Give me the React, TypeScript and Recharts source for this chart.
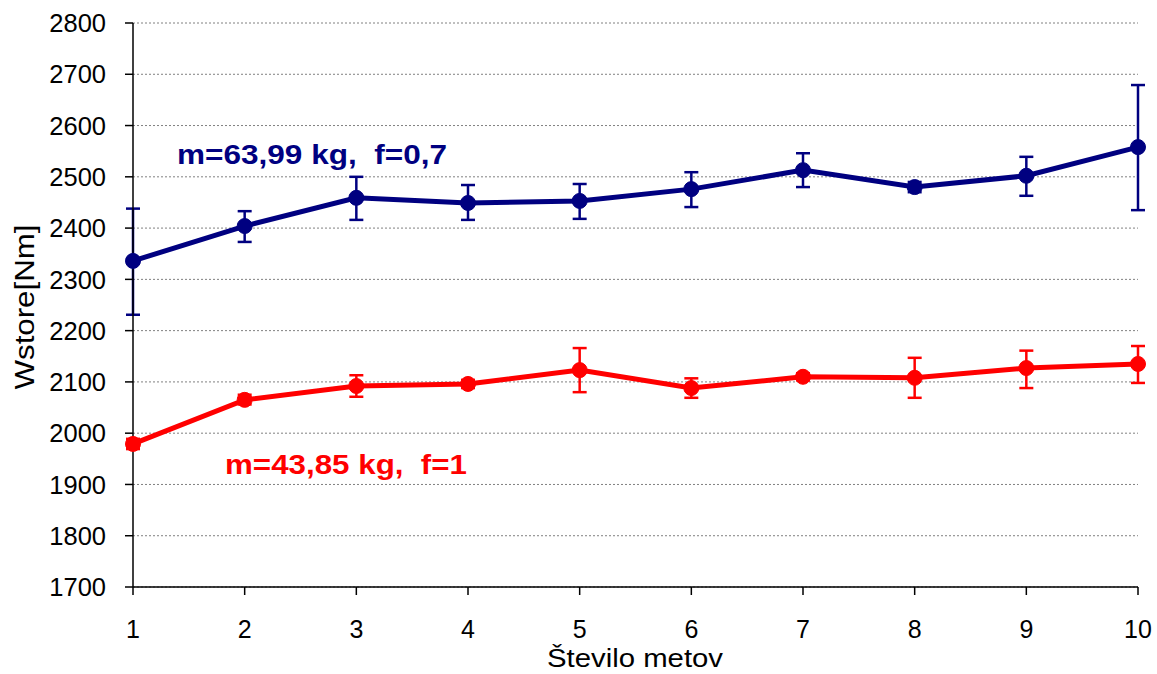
import { LineChart, Line, XAxis, YAxis, CartesianGrid, ErrorBar, Customized } from 'recharts';

const throws = [1, 2, 3, 4, 5, 6, 7, 8, 9, 10];

// m=63,99 kg, f=0,7
const heavyMean = [2336, 2404, 2459, 2449, 2453, 2476, 2513, 2480, 2502, 2558];
const heavyLow = [2231, 2373, 2416, 2416, 2418, 2441, 2480, 2470, 2463, 2435];
const heavyHigh = [2438, 2433, 2500, 2484, 2486, 2509, 2546, 2490, 2539, 2679];

// m=43,85 kg, f=1
const lightMean = [1979, 2065, 2092, 2096, 2123, 2088, 2110, 2108, 2127, 2135];
const lightLow = [1969, 2056, 2071, 2088, 2080, 2069, 2103, 2069, 2088, 2098];
const lightHigh = [1989, 2075, 2113, 2104, 2166, 2107, 2117, 2147, 2161, 2170];

const yTicks = [1700, 1800, 1900, 2000, 2100, 2200, 2300, 2400, 2500, 2600, 2700, 2800];

const data = throws.map((x, i) => ({
  x,
  heavy: heavyMean[i],
  heavyErr: [heavyMean[i] - heavyLow[i], heavyHigh[i] - heavyMean[i]],
  light: lightMean[i],
  lightErr: [lightMean[i] - lightLow[i], lightHigh[i] - lightMean[i]],
}));

const NAVY = '#000080';
const RED = '#ff0000';
const FONT = 'Arial, "Liberation Sans", sans-serif';

const XTick = (props: any) => {
  const { x, y, payload } = props;
  return (
    <text x={x} y={y + 41} textAnchor="middle" fill="#000" fontSize={25} fontFamily={FONT}>
      {payload.value}
    </text>
  );
};

const YTick = (props: any) => {
  const { x, y, payload } = props;
  return (
    <text x={x - 17} y={y} dy="0.36em" textAnchor="end" fill="#000" fontSize={25.5} fontFamily={FONT}>
      {payload.value}
    </text>
  );
};

// series captions and axis titles
const ChartTexts = () => (
  <g fontFamily={FONT}>
    <text x={177} y={164} fill={NAVY} fontSize={28} fontWeight="bold" textLength={270} lengthAdjust="spacingAndGlyphs" style={{ whiteSpace: 'pre' }}>
      m=63,99 kg,  f=0,7
    </text>
    <text x={225} y={474} fill={RED} fontSize={28} fontWeight="bold" textLength={242} lengthAdjust="spacingAndGlyphs" style={{ whiteSpace: 'pre' }}>
      m=43,85 kg,  f=1
    </text>
    <text x={547} y={667} fill="#000" fontSize={25} textLength={176} lengthAdjust="spacingAndGlyphs">
      Število metov
    </text>
    <text
      x={0}
      y={0}
      fill="#000"
      fontSize={27}
      textAnchor="middle"
      textLength={165}
      lengthAdjust="spacingAndGlyphs"
      transform="translate(34 307) rotate(-90)"
    >
      Wstore[Nm]
    </text>
  </g>
);

export default function App() {
  return (
    <div style={{ position: 'absolute', left: 0, top: 0, background: '#fff' }}>
      <LineChart
        width={1157}
        height={674}
        data={data}
        margin={{ top: 23, right: 19, left: 0, bottom: 0 }}
      >
        <CartesianGrid vertical={false} stroke="#808080" strokeDasharray="2 2" />
        <XAxis
          dataKey="x"
          type="number"
          domain={[1, 10]}
          ticks={throws}
          height={87}
          stroke="#000"
          strokeWidth={1.5}
          tickSize={8}
          tick={<XTick />}
        />
        <YAxis
          type="number"
          domain={[1700, 2800]}
          ticks={yTicks}
          width={133}
          stroke="#000"
          strokeWidth={1.5}
          tickSize={8}
          interval={0}
          tick={<YTick />}
        />
        <YAxis yAxisId="right" orientation="right" width={0} tick={false} stroke="#808080" strokeWidth={2} />
        <Line
          dataKey="heavy"
          stroke={NAVY}
          strokeWidth={5}
          dot={{ r: 7.5, fill: NAVY, stroke: NAVY, strokeWidth: 1 }}
          isAnimationActive={false}
        >
          <ErrorBar dataKey="heavyErr" direction="y" width={7} stroke={NAVY} strokeWidth={2.5} />
        </Line>
        <Line
          dataKey="light"
          stroke={RED}
          strokeWidth={5}
          dot={{ r: 7.5, fill: RED, stroke: RED, strokeWidth: 1 }}
          isAnimationActive={false}
        >
          <ErrorBar dataKey="lightErr" direction="y" width={7} stroke={RED} strokeWidth={2.5} />
        </Line>
        <Customized component={ChartTexts} />
      </LineChart>
    </div>
  );
}
